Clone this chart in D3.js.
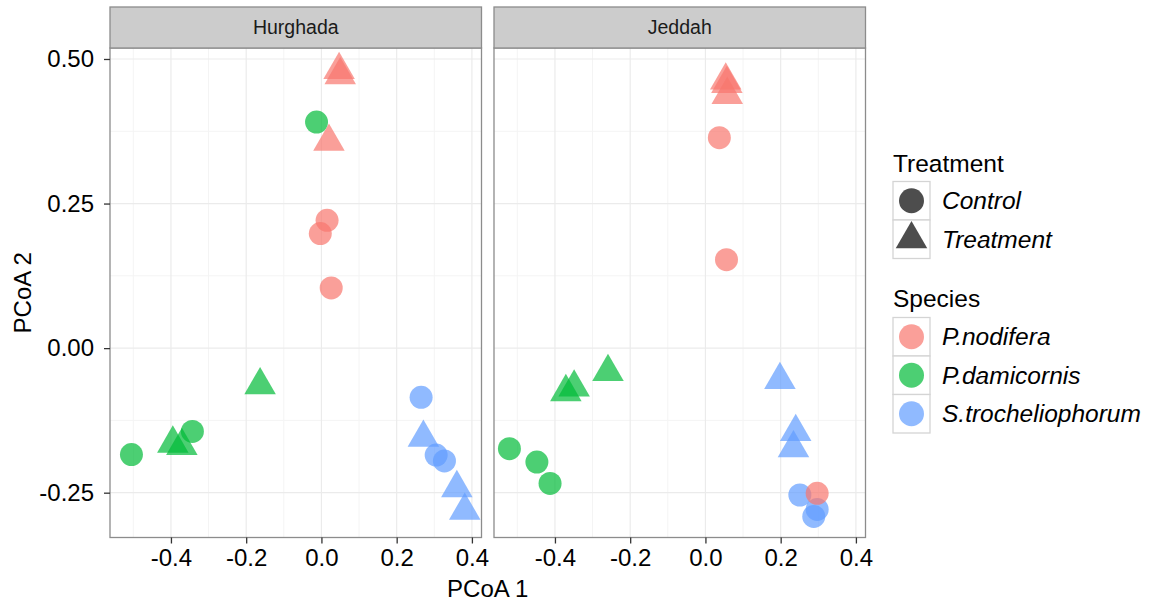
<!DOCTYPE html>
<html>
<head>
<meta charset="utf-8">
<script src="https://cdn.jsdelivr.net/npm/d3@7"></script>
<style>
  body { margin: 0; background: #fff; }
  text { font-family: Arial, 'Liberation Sans', sans-serif; }
</style>
</head>
<body>
<svg id="chart" width="1155" height="602"></svg>
<script>
// PCoA per site

const sites = ['Hurghada', 'Jeddah']
const species = ['P.nodifera', 'P.damicornis', 'S.trocheliophorum']
const treatments = ['Control', 'Treatment']
const speciesColors = ['#F8766D', '#00BA38', '#619CFF']

// [species, treatment, PCoA 1, PCoA 2]
const hurghadaPoints = [
  ['P.nodifera', 'Treatment', 0.047, 0.481],
  ['P.nodifera', 'Treatment', 0.050, 0.472],
  ['P.nodifera', 'Treatment', 0.020, 0.357],
  ['P.nodifera', 'Control', 0.015, 0.221],
  ['P.nodifera', 'Control', -0.003, 0.198],
  ['P.nodifera', 'Control', 0.026, 0.104],
  ['P.damicornis', 'Control', -0.013, 0.391],
  ['P.damicornis', 'Control', -0.343, -0.144],
  ['P.damicornis', 'Control', -0.505, -0.184],
  ['P.damicornis', 'Treatment', -0.163, -0.064],
  ['P.damicornis', 'Treatment', -0.395, -0.165],
  ['P.damicornis', 'Treatment', -0.371, -0.169],
  ['S.trocheliophorum', 'Control', 0.265, -0.085],
  ['S.trocheliophorum', 'Control', 0.305, -0.185],
  ['S.trocheliophorum', 'Control', 0.327, -0.195],
  ['S.trocheliophorum', 'Treatment', 0.271, -0.155],
  ['S.trocheliophorum', 'Treatment', 0.360, -0.242],
  ['S.trocheliophorum', 'Treatment', 0.381, -0.281]
]

const jeddahPoints = [
  ['P.nodifera', 'Treatment', 0.054, 0.463],
  ['P.nodifera', 'Treatment', 0.057, 0.457],
  ['P.nodifera', 'Treatment', 0.058, 0.438],
  ['P.nodifera', 'Control', 0.037, 0.364],
  ['P.nodifera', 'Control', 0.056, 0.153],
  ['P.damicornis', 'Treatment', -0.259, -0.041],
  ['P.damicornis', 'Treatment', -0.349, -0.068],
  ['P.damicornis', 'Treatment', -0.371, -0.076],
  ['P.damicornis', 'Control', -0.521, -0.174],
  ['P.damicornis', 'Control', -0.448, -0.197],
  ['P.damicornis', 'Control', -0.413, -0.234],
  ['S.trocheliophorum', 'Treatment', 0.198, -0.055],
  ['S.trocheliophorum', 'Treatment', 0.240, -0.145],
  ['S.trocheliophorum', 'Treatment', 0.234, -0.173],
  ['S.trocheliophorum', 'Control', 0.251, -0.254],
  ['S.trocheliophorum', 'Control', 0.288, -0.291],
  ['S.trocheliophorum', 'Control', 0.297, -0.279],
  ['P.nodifera', 'Control', 0.297, -0.251]
]

const xTicks = [-0.4, -0.2, 0.0, 0.2, 0.4]
const xMinor = [-0.5, -0.3, -0.1, 0.1, 0.3]
const yTicks = [-0.25, 0.00, 0.25, 0.50]
const yMinor = [-0.125, 0.125, 0.375]

const FONT = 24
const ALPHA = 0.7
const CIRCLE_R = 11.5
const TRI_HALF = 9.1 // distance from centroid to base

const svg = d3.select('#chart')
const panelTop = 48
const panelBottom = 537.5
const stripTop = 7
const panelLefts = [110, 494]
const panelWidth = 371.5

const y = d3.scaleLinear().domain([-0.3275, 0.519]).range([panelBottom, panelTop])
const color = d3.scaleOrdinal(species, speciesColors)
const shape = d3.scaleOrdinal(treatments, [d3.symbolCircle, d3.symbolTriangle])
const size = d3.scaleOrdinal(treatments, [Math.PI * CIRCLE_R * CIRCLE_R, TRI_HALF * TRI_HALF * 3 * Math.sqrt(3)])
const symbol = d3.symbol().type(d => shape(d[1])).size(d => size(d[1]))

const pointsBySite = [hurghadaPoints, jeddahPoints]

sites.forEach((site, i) => {
  const left = panelLefts[i]
  const x = d3.scaleLinear().domain([-0.562, 0.4255]).range([left, left + panelWidth])
  const g = svg.append('g')

  // grid
  g.selectAll('.xminor').data(xMinor).enter().append('line')
    .attr('x1', d => x(d)).attr('x2', d => x(d))
    .attr('y1', panelTop).attr('y2', panelBottom)
    .attr('stroke', '#F4F4F4').attr('stroke-width', 1)
  g.selectAll('.yminor').data(yMinor).enter().append('line')
    .attr('y1', d => y(d)).attr('y2', d => y(d))
    .attr('x1', left).attr('x2', left + panelWidth)
    .attr('stroke', '#F4F4F4').attr('stroke-width', 1)
  g.selectAll('.xmajor').data(xTicks).enter().append('line')
    .attr('x1', d => x(d)).attr('x2', d => x(d))
    .attr('y1', panelTop).attr('y2', panelBottom)
    .attr('stroke', '#EBEBEB').attr('stroke-width', 1.2)
  g.selectAll('.ymajor').data(yTicks).enter().append('line')
    .attr('y1', d => y(d)).attr('y2', d => y(d))
    .attr('x1', left).attr('x2', left + panelWidth)
    .attr('stroke', '#EBEBEB').attr('stroke-width', 1.2)

  // points
  g.selectAll('.pt').data(pointsBySite[i]).enter().append('path')
    .attr('d', symbol)
    .attr('transform', d => `translate(${x(d[2])},${y(d[3])})`)
    .attr('fill', d => color(d[0]))
    .attr('fill-opacity', ALPHA)

  // border
  g.append('rect')
    .attr('x', left).attr('y', panelTop)
    .attr('width', panelWidth).attr('height', panelBottom - panelTop)
    .attr('fill', 'none').attr('stroke', '#8C8C8C').attr('stroke-width', 1.3)

  // strip
  g.append('rect')
    .attr('x', left).attr('y', stripTop)
    .attr('width', panelWidth).attr('height', panelTop - stripTop)
    .attr('fill', '#CCCCCC').attr('stroke', '#8C8C8C').attr('stroke-width', 1.3)
  g.append('text')
    .attr('x', left + panelWidth / 2).attr('y', 33.5)
    .attr('text-anchor', 'middle')
    .attr('font-size', 19.5).attr('fill', '#1A1A1A')
    .text(site)

  // x axis
  const xAxis = d3.axisBottom(x).tickValues(xTicks).tickSize(6).tickPadding(5)
    .tickFormat(d3.format('.1f'))
  const ax = g.append('g').attr('transform', `translate(0,${panelBottom})`).call(xAxis)
  ax.select('.domain').remove()
  ax.selectAll('line').attr('stroke', '#333').attr('stroke-width', 1.3)
  ax.selectAll('text').attr('font-size', FONT).attr('fill', '#000')
    .attr('font-family', 'Arial, Liberation Sans, sans-serif')
    .text(d => d3.format('.1f')(d).replace('−', '-'))
})

// y axis
const yAxis = d3.axisLeft(y).tickValues(yTicks).tickSize(6).tickPadding(10)
  .tickFormat(d => d3.format('.2f')(d).replace('−', '-'))
const ay = svg.append('g').attr('transform', `translate(${panelLefts[0]},0)`).call(yAxis)
ay.select('.domain').remove()
ay.selectAll('line').attr('stroke', '#333').attr('stroke-width', 1.3)
ay.selectAll('text').attr('font-size', FONT).attr('fill', '#000')
  .attr('font-family', 'Arial, Liberation Sans, sans-serif')

// axis titles
svg.append('text')
  .attr('x', (panelLefts[0] + panelLefts[1] + panelWidth) / 2).attr('y', 597)
  .attr('text-anchor', 'middle').attr('font-size', 24)
  .text('PCoA 1')
svg.append('text')
  .attr('transform', `translate(31,${(panelTop + panelBottom) / 2}) rotate(-90)`)
  .attr('text-anchor', 'middle').attr('font-size', 24)
  .text('PCoA 2')

// legends
const legX = 893
const keyW = 37
const keyH = 38.5

function legend (title, titleY, keysTop, items, drawKey) {
  const lg = svg.append('g')
  lg.append('text').attr('x', legX).attr('y', titleY)
    .attr('font-size', 24.5).text(title)
  items.forEach((item, k) => {
    const top = keysTop + k * keyH
    lg.append('rect').attr('x', legX).attr('y', top)
      .attr('width', keyW).attr('height', keyH)
      .attr('fill', '#fff').attr('stroke', '#D4D4D4').attr('stroke-width', 1.3)
    drawKey(lg, item, legX + keyW / 2, top + keyH / 2)
    lg.append('text').attr('x', legX + 49).attr('y', top + keyH / 2 + 8.5)
      .attr('font-size', 24.5).attr('font-style', 'italic').text(item)
  })
}

legend('Treatment', 171.5, 181.5, treatments, (lg, t, cx, cy) => {
  lg.append('path')
    .attr('d', d3.symbol().type(shape(t)).size(t === 'Control' ? Math.PI * 12.5 * 12.5 : size(t))())
    .attr('transform', `translate(${cx},${cy})`)
    .attr('fill', '#4D4D4D')
})

legend('Species', 306.5, 317.5, species, (lg, s, cx, cy) => {
  lg.append('path')
    .attr('d', d3.symbol().type(d3.symbolCircle).size(Math.PI * 12.5 * 12.5)())
    .attr('transform', `translate(${cx},${cy})`)
    .attr('fill', color(s)).attr('fill-opacity', ALPHA)
})
</script>
</body>
</html>
